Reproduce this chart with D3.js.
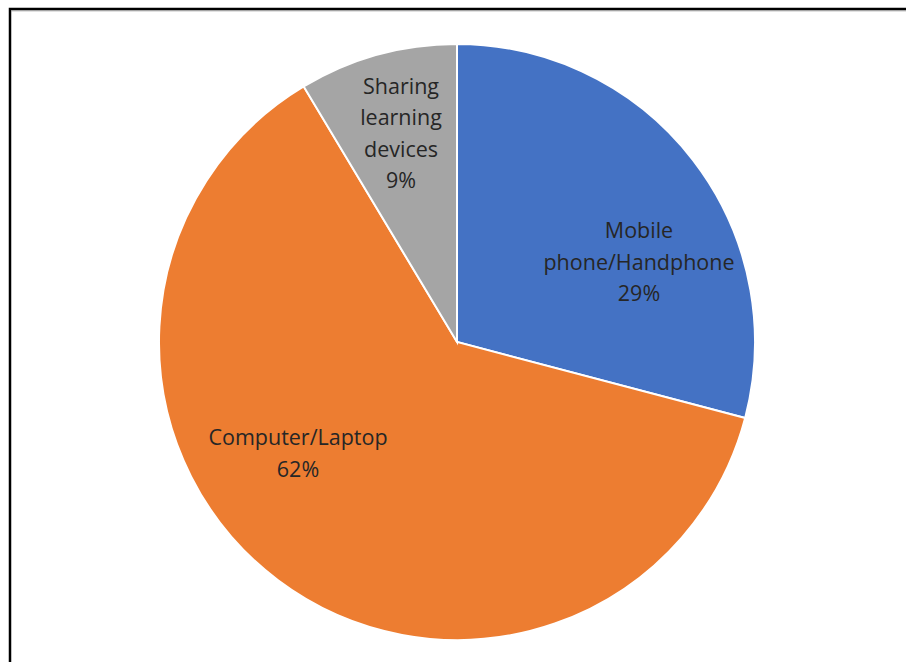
<!DOCTYPE html>
<html>
<head>
<meta charset="utf-8">
<script src="https://cdn.jsdelivr.net/npm/d3@7"></script>
<style>
  body { margin: 0; background: #fff; }
  svg text { font-family: "Open Sans", "Noto Sans", sans-serif; font-size: 21.5px; fill: #262626; }
</style>
</head>
<body>
<svg width="906" height="662"></svg>
<script>
const categories = ['Mobile phone/Handphone', 'Computer/Laptop', 'Sharing learning devices']
const values = [29.1, 62.3, 8.6]
const percentLabels = ['29%', '62%', '9%']
const labelLines = [['Mobile', 'phone/Handphone'], ['Computer/Laptop'], ['Sharing', 'learning', 'devices']]
const colors = ['#4472C4', '#ED7D31', '#A5A5A5']

const svg = d3.select('svg')
const width = +svg.attr('width')
const height = +svg.attr('height')

// frame
svg.append('path')
  .attr('d', `M10,${height + 5} L10,9 L${width + 5},9`)
  .attr('fill', 'none')
  .attr('stroke', '#000')
  .attr('stroke-width', 2.5)
svg.append('line')
  .attr('x1', 11).attr('x2', width)
  .attr('y1', 10.8).attr('y2', 10.8)
  .attr('stroke', '#999').attr('stroke-width', 1)

const cx = 457, cy = 342, radius = 298

const data = categories.map((c, i) => ({ category: c, value: values[i], pct: percentLabels[i], lines: labelLines[i], color: colors[i] }))

const pie = d3.pie().value(d => d.value).sort(null)
const arc = d3.arc().innerRadius(0).outerRadius(radius)

const g = svg.append('g').attr('transform', `translate(${cx}, ${cy})`)

const arcs = pie(data)

g.selectAll('path.slice')
  .data(arcs)
  .enter()
  .append('path')
  .attr('class', 'slice')
  .attr('d', arc)
  .attr('fill', d => d.data.color)
  .attr('stroke', '#fff')
  .attr('stroke-width', 2)

// label placement relative to centre (best-fit style)
const labelPos = [[182, -80], [-159, 111.5], [-56, -208.5]]
const lineHeight = 31.5

arcs.forEach((a, i) => {
  const [x, y] = labelPos[i]
  const lines = a.data.lines.concat([a.data.pct])
  const top = y - (lines.length - 1) * lineHeight / 2
  const t = g.append('text')
    .attr('text-anchor', 'middle')
  lines.forEach((l, j) => {
    t.append('tspan')
      .attr('x', x)
      .attr('y', top + j * lineHeight)
      .attr('dy', '0.35em')
      .text(l)
  })
})
</script>
</body>
</html>
